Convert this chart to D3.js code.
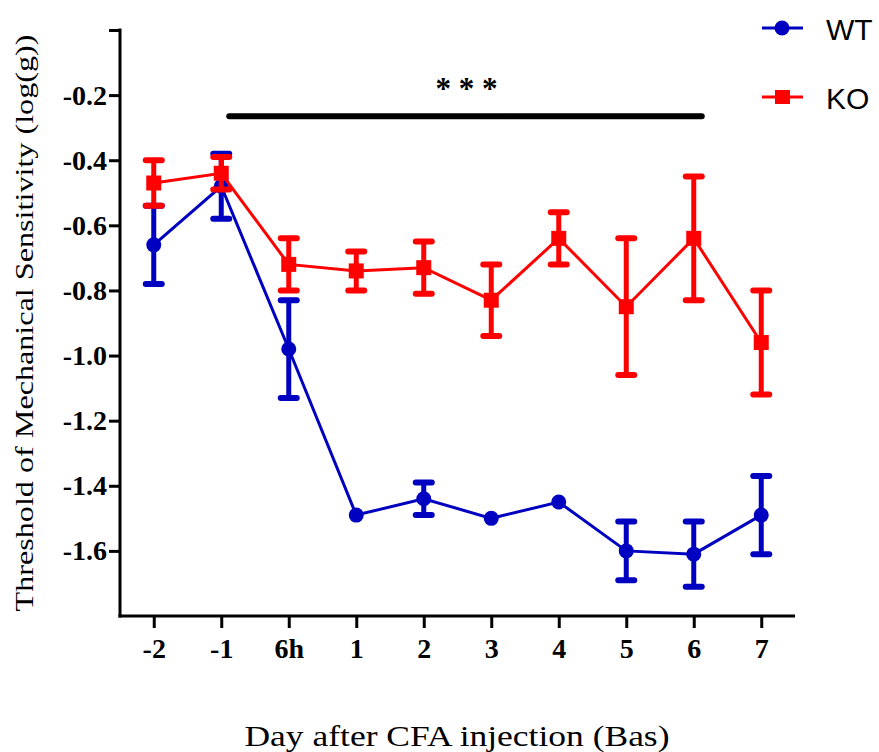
<!DOCTYPE html>
<html>
<head>
<meta charset="utf-8">
<script src="https://cdnjs.cloudflare.com/ajax/libs/d3/7.8.5/d3.min.js"></script>
<style>
  html, body { margin: 0; padding: 0; background: #fff; }
  svg { display: block; }
</style>
</head>
<body>
<svg id="chart" width="879" height="752"></svg>
<script>
// Time points after CFA injection
const categories = ["-2", "-1", "6h", "1", "2", "3", "4", "5", "6", "7"];

// Mean threshold (log(g)) and error bar limits per group
const wtMean = [-0.66, -0.48, -0.98, -1.49, -1.44, -1.50, -1.45, -1.60, -1.61, -1.49];
const wtLow  = [-0.78, -0.58, -1.13, -1.49, -1.49, -1.50, -1.45, -1.69, -1.71, -1.61];
const wtHigh = [-0.54, -0.38, -0.83, -1.49, -1.39, -1.50, -1.45, -1.51, -1.51, -1.37];

const koMean = [-0.47, -0.44, -0.72, -0.74, -0.73, -0.83, -0.64, -0.85, -0.64, -0.96];
const koLow  = [-0.54, -0.49, -0.80, -0.80, -0.81, -0.94, -0.72, -1.06, -0.83, -1.12];
const koHigh = [-0.40, -0.39, -0.64, -0.68, -0.65, -0.72, -0.56, -0.64, -0.45, -0.80];

const yTicks = [0, -0.2, -0.4, -0.6, -0.8, -1.0, -1.2, -1.4, -1.6];
const yTickLabels = ["", "-0.2", "-0.4", "-0.6", "-0.8", "-1.0", "-1.2", "-1.4", "-1.6"];

// Significance bracket spans day -1 through day 6
const sigFrom = "-1", sigTo = "6", sigValue = -0.265, sigText = "* * *";

const svg = d3.select("#chart");
const plotLeft = 120, plotRight = 795, plotTop = 30, plotBottom = 616;

const x = d3.scalePoint().domain(categories).range([plotLeft, plotRight]).padding(0.5);
const y = d3.scaleLinear().domain([-1.8, 0]).range([plotBottom, plotTop]);

const serif = "'Liberation Serif', 'Times New Roman', serif";
const sans = "'Liberation Sans', Arial, sans-serif";

// Y axis
const yAxis = svg.append("g")
  .attr("transform", `translate(${plotLeft},0)`)
  .call(d3.axisLeft(y).tickValues(yTicks)
    .tickFormat((d, i) => yTickLabels[i]).tickSize(11).tickPadding(2).tickSizeOuter(0));
yAxis.select(".domain").attr("stroke", "#000").attr("stroke-width", 3)
  .attr("d", `M0,${plotTop - 1.5}V${plotBottom + 1.5}`);
yAxis.selectAll(".tick line").attr("stroke", "#000").attr("stroke-width", 3);
yAxis.selectAll(".tick text").attr("font-family", serif).attr("font-weight", "bold")
  .attr("font-size", 28).attr("fill", "#000");

// X axis
const xAxis = svg.append("g")
  .attr("transform", `translate(0,${plotBottom})`)
  .call(d3.axisBottom(x).tickSize(12).tickPadding(10).tickSizeOuter(0));
xAxis.select(".domain").attr("stroke", "#000").attr("stroke-width", 3)
  .attr("d", `M${plotLeft - 1.5},0H${plotRight}`);
xAxis.selectAll(".tick line").attr("stroke", "#000").attr("stroke-width", 3);
xAxis.selectAll(".tick text").attr("font-family", serif).attr("font-weight", "bold")
  .attr("font-size", 28).attr("fill", "#000");

// Axis titles
svg.append("text")
  .attr("transform", `translate(33,323) rotate(-90)`)
  .attr("text-anchor", "middle")
  .attr("font-family", serif).attr("font-size", 26).attr("fill", "#000")
  .attr("textLength", 577).attr("lengthAdjust", "spacingAndGlyphs")
  .text("Threshold of Mechanical Sensitivity (log(g))");

svg.append("text")
  .attr("x", 457).attr("y", 746)
  .attr("text-anchor", "middle")
  .attr("font-family", serif).attr("font-size", 30).attr("fill", "#000")
  .attr("textLength", 425).attr("lengthAdjust", "spacingAndGlyphs")
  .text("Day after CFA injection (Bas)");

// Significance bar
svg.append("line")
  .attr("x1", x(sigFrom) + 8).attr("x2", x(sigTo) + 8)
  .attr("y1", y(sigValue)).attr("y2", y(sigValue))
  .attr("stroke", "#000").attr("stroke-width", 6).attr("stroke-linecap", "round");
svg.append("text")
  .attr("x", (x(sigFrom) + x(sigTo)) / 2 + 9).attr("y", y(sigValue) - 17)
  .attr("text-anchor", "middle")
  .attr("font-family", serif).attr("font-weight", "bold").attr("font-size", 31)
  .attr("fill", "#000").text(sigText);

// Draws one group's line, error bars and markers
function drawSeries(mean, low, high, color, shape) {
  const g = svg.append("g");
  const pts = categories.map((c, i) => ({ c, m: mean[i], lo: low[i], hi: high[i] }));

  g.append("path")
    .datum(pts)
    .attr("fill", "none").attr("stroke", color).attr("stroke-width", 3)
    .attr("d", d3.line().x(d => x(d.c)).y(d => y(d.m)));

  const eb = g.selectAll(".eb").data(pts.filter(d => d.hi - d.lo > 0.001)).join("g");
  eb.append("line")
    .attr("x1", d => x(d.c)).attr("x2", d => x(d.c))
    .attr("y1", d => y(d.hi)).attr("y2", d => y(d.lo))
    .attr("stroke", color).attr("stroke-width", 5);
  ["hi", "lo"].forEach(k => {
    eb.append("line")
      .attr("x1", d => x(d.c) - 8).attr("x2", d => x(d.c) + 8)
      .attr("y1", d => y(d[k])).attr("y2", d => y(d[k]))
      .attr("stroke", color).attr("stroke-width", 6).attr("stroke-linecap", "round");
  });

  if (shape === "circle") {
    g.selectAll(".pt").data(pts).join("circle")
      .attr("cx", d => x(d.c)).attr("cy", d => y(d.m)).attr("r", 7.5)
      .attr("fill", color);
  } else {
    g.selectAll(".pt").data(pts).join("rect")
      .attr("x", d => x(d.c) - 7.5).attr("y", d => y(d.m) - 7.5)
      .attr("width", 15).attr("height", 15).attr("fill", color);
  }
}

const wtColor = "#0000c0", koColor = "#ff0000";
drawSeries(wtMean, wtLow, wtHigh, wtColor, "circle");
drawSeries(koMean, koLow, koHigh, koColor, "square");

// Legend
const legend = [
  { name: "WT", color: wtColor, shape: "circle", y: 28 },
  { name: "KO", color: koColor, shape: "square", y: 97 }
];
const lg = svg.selectAll(".lg").data(legend).join("g");
lg.append("line")
  .attr("x1", 762).attr("x2", 803).attr("y1", d => d.y).attr("y2", d => d.y)
  .attr("stroke", d => d.color).attr("stroke-width", 3);
lg.filter(d => d.shape === "circle").append("circle")
  .attr("cx", 782).attr("cy", d => d.y).attr("r", 7.5).attr("fill", d => d.color);
lg.filter(d => d.shape === "square").append("rect")
  .attr("x", 775).attr("y", d => d.y - 7).attr("width", 15).attr("height", 14)
  .attr("fill", d => d.color);
lg.append("text")
  .attr("x", 826).attr("y", d => d.y + 12)
  .attr("font-family", sans).attr("font-size", 30).attr("fill", "#000")
  .text(d => d.name);
</script>
</body>
</html>
